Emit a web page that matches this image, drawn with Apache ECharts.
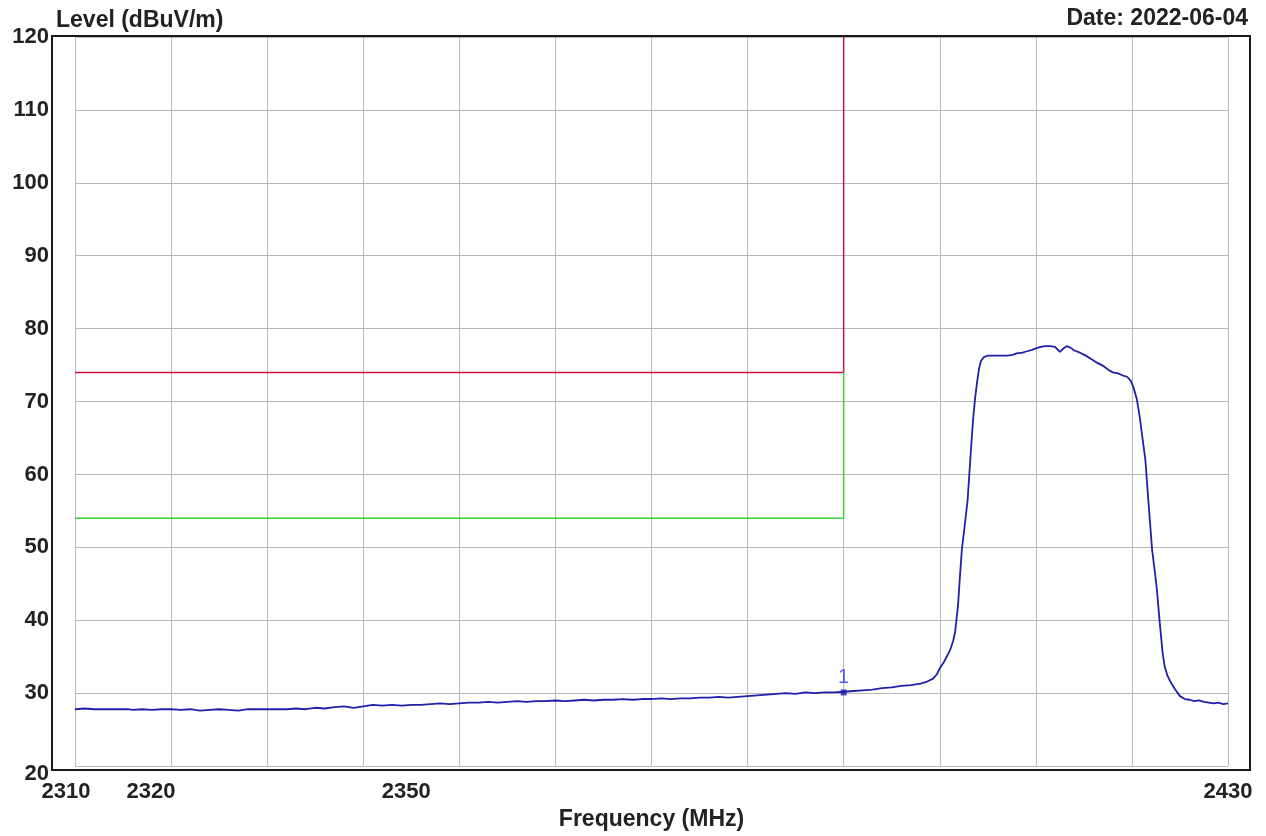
<!DOCTYPE html>
<html>
<head>
<meta charset="utf-8">
<script src="https://cdn.jsdelivr.net/npm/echarts@6/dist/echarts.min.js"></script>
<style>
html,body{margin:0;padding:0;background:#fff;}
#chart{width:1266px;height:836px;}
</style>
</head>
<body>
<div id="chart"></div>
<script>
// ---- data ----
var xTickLabels = [2310, 2320, 2350, 2430];
var traceFreq = [
2310,2311,2312,2314,2315.5,2316,2317,2318,2319,2320,2321,2322,2323,2324,2325,2326,2327,2328,2330,2332,
2333,2334,2335,2336,2337,2338,2339,2340,2341,2342,2343,2344,2345,2346,2347,2348,2349,2350,2351,2352,
2353,2354,2355,2356,2357,2358,2359,2360,2361,2362,2363,2364,2365,2366,2367,2368,2369,2370,2371,2372,
2373,2374,2375,2376,2377,2378,2379,2380,2381,2382,2383,2384,2385,2386,2387,2388,2389,2390,2391,2392,
2393,2394,2395,2396,2397,2398,2398.7,2399.3,2399.7,2400.0,2400.4,2400.8,2401.1,2401.4,2401.6,2401.9,2402.1,2402.3,2402.6,2402.9,
2403.1,2403.3,2403.5,2403.7,2403.9,2404.1,2404.3,2404.6,2405.0,2406.0,2407.0,2407.6,2408.0,2408.6,2409.1,2409.6,2410.0,2410.5,2411.0,2411.5,
2412.0,2412.3,2412.5,2412.8,2413.2,2413.6,2414.0,2414.6,2415.2,2415.8,2416.4,2417.0,2417.5,2418.0,2418.5,2419.0,2419.5,2419.9,2420.2,2420.5,
2420.8,2421.1,2421.4,2421.7,2422.1,2422.4,2422.6,2422.9,2423.2,2423.4,2423.7,2424.0,2424.5,2425.0,2425.5,2426.0,2426.5,2427.0,2427.5,2428.0,
2428.5,2429.0,2429.5,2430
];
var traceLevel = [
27.8,27.9,27.8,27.8,27.8,27.7,27.8,27.7,27.8,27.8,27.7,27.8,27.6,27.7,27.8,27.7,27.6,27.8,27.8,27.8,
27.9,27.8,28.0,27.9,28.1,28.2,28.0,28.2,28.4,28.3,28.4,28.3,28.4,28.4,28.5,28.6,28.5,28.6,28.7,28.7,
28.8,28.7,28.8,28.9,28.8,28.9,28.9,29.0,28.9,29.0,29.1,29.0,29.1,29.1,29.2,29.1,29.2,29.2,29.3,29.2,
29.3,29.3,29.4,29.4,29.5,29.4,29.5,29.6,29.7,29.8,29.9,30.0,29.9,30.1,30.0,30.1,30.1,30.2,30.3,30.4,
30.5,30.7,30.8,31.0,31.1,31.3,31.6,32.0,32.6,33.4,34.2,35.2,36.0,37.2,38.4,42.0,46.0,49.7,53.0,56.5,
60.5,64.4,68.0,70.7,72.8,74.6,75.6,76.1,76.3,76.3,76.3,76.4,76.6,76.7,76.9,77.1,77.3,77.5,77.6,77.6,
77.5,77.1,76.8,77.2,77.6,77.4,77.0,76.7,76.3,75.8,75.3,74.9,74.4,74.0,73.9,73.6,73.4,72.8,71.8,70.4,
68.0,65.0,62.0,56.6,49.7,46.5,44.2,39.6,35.5,33.7,32.4,31.6,30.5,29.6,29.2,29.1,28.9,29.0,28.8,28.7,
28.6,28.7,28.5,28.6
];
var peakLimitFreq = [2310, 2390, 2390];
var peakLimitLevel = [74, 74, 120];
var avgLimitFreq = [2310, 2390, 2390];
var avgLimitLevel = [54, 54, 74];
var markerFreq = [2390];
var markerLevel = [30.1];
var markerNames = ['1'];

function pairs(xs, ys){ var out=[]; for(var i=0;i<xs.length;i++){ out.push([xs[i], ys[i]]); } return out; }

var FONT = '"Liberation Sans", Arial, sans-serif';
var chart = echarts.init(document.getElementById('chart'), null, {renderer:'canvas'});

var xShift = {2310:18, 2320:40, 2350:106, 2430:0};
var xRich = {};
xTickLabels.forEach(function(v){
  xRich['t'+v] = {fontFamily:FONT, fontSize:22, fontWeight:'bold', color:'#222', padding:[0, xShift[v], 0, 0]};
});

var option = {
  animation: false,
  backgroundColor: '#ffffff',
  title: [
    {text:'Level (dBuV/m)', left:51, top:4, textStyle:{fontFamily:FONT, fontSize:23, fontWeight:'bold', color:'#222'}},
    {text:'Date: 2022-06-04', right:13, top:2, textStyle:{fontFamily:FONT, fontSize:23, fontWeight:'bold', color:'#222'}}
  ],
  grid: {left:75, right:38, top:37, bottom:69, containLabel:false},
  xAxis: {
    type:'value', min:2310, max:2430, interval:10,
    name:'Frequency (MHz)', nameLocation:'middle', nameGap:40,
    nameTextStyle:{fontFamily:FONT, fontSize:23, fontWeight:'bold', color:'#222'},
    axisLine:{show:false}, axisTick:{show:false},
    splitLine:{show:true, lineStyle:{color:'#b8b8b8', width:1}},
    axisLabel:{
      customValues: xTickLabels,
      margin:15,
      formatter:function(v){ return '{t'+v+'|'+v+'}'; },
      rich: xRich
    }
  },
  yAxis: {
    type:'value', min:20, max:120, interval:10,
    axisLine:{show:false}, axisTick:{show:false},
    splitLine:{show:true, lineStyle:{color:'#b8b8b8', width:1}},
    axisLabel:{
      margin:26,
      formatter:function(v){ return v===20 ? '{low|'+v+'}' : '{n|'+v+'}'; },
      rich:{
        n:{fontFamily:FONT, fontSize:22, fontWeight:'bold', color:'#222'},
        low:{fontFamily:FONT, fontSize:22, fontWeight:'bold', color:'#222', padding:[16,0,0,0]}
      }
    }
  },
  graphic: [
    {type:'rect', z:100, silent:true, shape:{x:52, y:36, width:1198, height:734},
     style:{fill:null, stroke:'#1a1a1a', lineWidth:2}}
  ],
  series: [
    {type:'line', name:'Peak limit', data:pairs(peakLimitFreq, peakLimitLevel), showSymbol:false,
     lineStyle:{color:'#d0103a', width:1.5}, z:3},
    {type:'line', name:'Average limit', data:pairs(avgLimitFreq, avgLimitLevel), showSymbol:false,
     lineStyle:{color:'#3ccc3c', width:1.5}, z:3},
    {type:'line', name:'Trace', data:pairs(traceFreq, traceLevel), showSymbol:false,
     lineStyle:{color:'#2020aa', width:1.8}, z:4},
    {type:'scatter', name:'Marker', data:pairs(markerFreq, markerLevel), symbol:'rect', symbolSize:6,
     itemStyle:{color:'#1a1ab8'}, z:5,
     label:{show:true, position:'top', distance:2, formatter:function(p){ return markerNames[p.dataIndex]; },
       fontFamily:FONT, fontSize:20, color:'#3333ee'}}
  ]
};
chart.setOption(option);
</script>
</body>
</html>
